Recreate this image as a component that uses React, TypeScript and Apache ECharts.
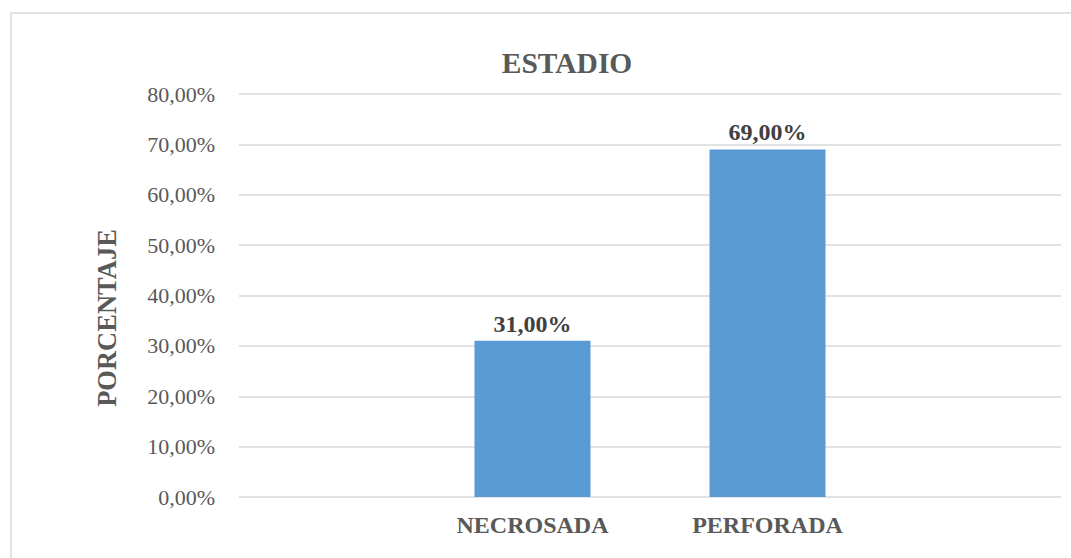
import React, { useEffect, useRef } from "react";
import * as echarts from "echarts";

const categories = ["NECROSADA", "PERFORADA"];
const values = [31, 69];
const yTicks = [0, 10, 20, 30, 40, 50, 60, 70, 80];
const titleText = "ESTADIO";
const yName = "PORCENTAJE";

const FONT = "'Liberation Serif', 'Times New Roman', serif";
const fmt = (v: number) => v.toFixed(2).replace(".", ",") + "%";

export default function App() {
  const ref = useRef<HTMLDivElement>(null);
  useEffect(() => {
    if (!ref.current) return;
    const chart = echarts.init(ref.current, undefined, { renderer: "svg" });
    chart.setOption({
      animation: false,
      backgroundColor: "#ffffff",
      title: {
        text: titleText,
        left: 562,
        top: 43,
        textAlign: "center",
        textStyle: { fontFamily: FONT, fontSize: 29.5, fontWeight: "bold", color: "#595959" },
      },
      graphic: [
        {
          type: "rect",
          shape: { x: 11, y: 13, width: 1200, height: 700 },
          style: { fill: "none", stroke: "#D9D9D9", lineWidth: 1.5 },
          silent: true,
          z: -1,
        },
        {
          type: "text",
          x: 107,
          y: 318,
          rotation: Math.PI / 2,
          style: {
            text: yName,
            fontFamily: FONT,
            fontSize: 26.5,
            fontWeight: "bold",
            fill: "#595959",
            textAlign: "center",
            textVerticalAlign: "middle",
          },
        },
      ],
      grid: [
        { left: 239, right: 10, top: 94, bottom: 61 },
        { left: 415, right: 186, top: 94, bottom: 61 },
      ],
      xAxis: [
        { type: "value", gridIndex: 0, show: false, min: 0, max: 1 },
        {
          type: "category",
          gridIndex: 1,
          data: categories,
          axisLine: { show: false },
          axisTick: { show: false },
          axisLabel: {
            margin: 16,
            fontFamily: FONT,
            fontSize: 24,
            fontWeight: "bold",
            color: "#595959",
          },
        },
      ],
      yAxis: [
        {
          type: "value",
          gridIndex: 0,
          min: yTicks[0],
          max: yTicks[yTicks.length - 1],
          interval: 10,
          axisLine: { show: false },
          axisTick: { show: false },
          splitLine: { show: true, lineStyle: { color: "#D9D9D9", width: 1.5 } },
          axisLabel: {
            margin: 24,
            fontFamily: FONT,
            fontSize: 22,
            color: "#595959",
            formatter: (v: number) => fmt(v),
          },
        },
        {
          type: "value",
          gridIndex: 1,
          min: yTicks[0],
          max: yTicks[yTicks.length - 1],
          interval: 10,
          show: false,
          splitLine: { show: false },
        },
      ],
      series: [
        {
          type: "bar",
          xAxisIndex: 1,
          yAxisIndex: 1,
          data: values,
          barWidth: 116,
          itemStyle: { color: "#5B9BD5" },
          label: {
            show: true,
            position: "top",
            distance: 5,
            fontFamily: FONT,
            fontSize: 24,
            fontWeight: "bold",
            color: "#404040",
            formatter: (p: any) => fmt(p.value),
          },
        },
      ],
    });
    return () => chart.dispose();
  }, []);
  return <div ref={ref} style={{ width: 1071, height: 558, position: "absolute", left: 0, top: 0 }} />;
}
